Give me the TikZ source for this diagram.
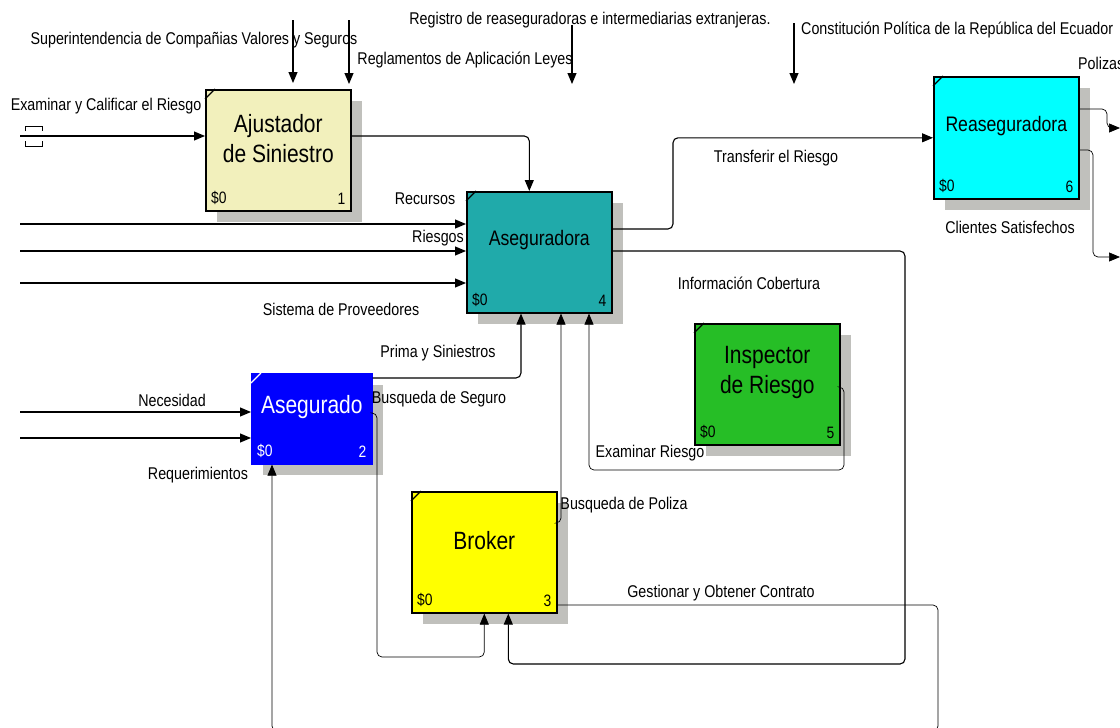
\documentclass[tikz,border=0pt]{standalone}
\usepackage{fontspec}
\setmainfont{Liberation Sans}[FakeStretch=0.84]
\usepackage{tikz}
\usetikzlibrary{positioning,arrows.meta,shadows}
\definecolor{ajusfill}{RGB}{242,240,188}
\definecolor{asgrafill}{RGB}{32,170,170}
\definecolor{reasfill}{RGB}{0,255,255}
\definecolor{inspfill}{RGB}{38,190,38}
\definecolor{brokfill}{RGB}{255,255,0}
\definecolor{asgdofill}{RGB}{0,0,255}
\definecolor{shadowgray}{RGB}{192,192,188}
\newcommand{\tagfont}{\fontsize{17}{19}\selectfont}
\newcommand{\titlefont}{\fontsize{25}{30}\selectfont}
\newcommand{\smalltitlefont}{\fontsize{21}{25}\selectfont}
\newcommand{\costfont}{\fontsize{16.5}{18}\selectfont}
\tikzset{
  activity/.style={draw=black,line width=1.6pt,anchor=north west,
    minimum width=145pt,minimum height=121pt,inner sep=0pt,
    drop shadow={shadow xshift=11pt,shadow yshift=-11pt,fill=shadowgray,opacity=1}},
  title/.style={font=\titlefont,align=center,yshift=12pt,inner sep=0pt},
  cost/.style={font=\costfont,anchor=south west,xshift=6pt,yshift=7pt,inner sep=0pt},
  boxno/.style={font=\costfont,anchor=south east,xshift=-6pt,yshift=7pt,inner sep=0pt},
  flow/.style={line width=1.1pt,rounded corners=5pt,-{Triangle[length=11pt,width=9pt]}},
  thinflow/.style={flow,line width=0.7pt},
  tag/.style={font=\tagfont,inner sep=0pt}
}

\begin{document}
\begin{tikzpicture}[x=1pt,y=-1pt]
  \useasboundingbox (0,0) rectangle (1120,728);
  % activities
  \node[activity,fill=ajusfill,label={[title]center:Ajustador\\de Siniestro},
    label={[cost]south west:\$0},label={[boxno]south east:1}] (ajus) at (205,89) {};
  \node[activity,fill=asgrafill,label={[title,font=\smalltitlefont]center:Aseguradora},
    label={[cost]south west:\$0},label={[boxno]south east:4}] (asgra) at (466,191) {};
  \node[activity,fill=reasfill,minimum height=122pt,label={[title,font=\smalltitlefont]center:Reaseguradora},
    label={[cost]south west:\$0},label={[boxno]south east:6}] (reas) at (933,76) {};
  \node[activity,fill=inspfill,label={[title]center:Inspector\\de Riesgo},
    label={[cost]south west:\$0},label={[boxno]south east:5}] (insp) at (694,323) {};
  \node[activity,fill=brokfill,label={[title]center:Broker},
    label={[cost]south west:\$0},label={[boxno]south east:3}] (brok) at (411,491) {};
  \node[activity,draw=asgdofill,fill=asgdofill,minimum width=120pt,minimum height=90pt,
    label={[title,text=white]center:Asegurado},
    label={[cost,text=white]south west:\$0},label={[boxno,text=white]south east:2}] (asgdo) at (251,373) {};
  \foreach \b in {ajus,asgra,reas,insp,brok}
    \draw[line width=1.2pt] ([yshift=-10pt]\b.north west) -- ([xshift=10pt]\b.north west);
  \draw[white,line width=1.2pt] ([yshift=-10pt]asgdo.north west) -- ([xshift=10pt]asgdo.north west);

  % controls
  \coordinate (c1) at (293,20);
  \coordinate (c2) at (349,20);
  \coordinate (c3) at (572,25);
  \coordinate (c3e) at (572,84);
  \coordinate (c4) at (794,23);
  \coordinate (c4e) at (794,84);
  \draw[flow,shorten >=6pt] (c1) -- (c1 |- ajus.north);
  \draw[flow,shorten >=5pt] (c2) -- (c2 |- ajus.north);
  \draw[flow] (c3) -- (c3e);
  \draw[flow] (c4) -- (c4e);

  % inputs
  \coordinate (exa) at (20,136);
  \coordinate (rec) at (20,224);
  \coordinate (rsg) at (20,251);
  \coordinate (prv) at (20,283);
  \coordinate (nec) at (20,412);
  \coordinate (req) at (20,438);
  \draw[flow] (exa) -- (exa -| ajus.west);
  \draw[line width=0.6pt] ([shift={(5,-5)}]exa) |- ([shift={(22,-10)}]exa) -- ([shift={(22,-5)}]exa);
  \draw[line width=0.6pt] ([shift={(5,5)}]exa) |- ([shift={(22,10)}]exa) -- ([shift={(22,5)}]exa);
  \draw[flow] (rec) -- (rec -| asgra.west);
  \draw[flow] (rsg) -- (rsg -| asgra.west);
  \draw[flow] (prv) -- (prv -| asgra.west);
  \draw[flow] (nec) -- (nec -| asgdo.west);
  \draw[flow] (req) -- (req -| asgdo.west);

  % flows between activities
  \draw[flow] (ajus.east |- exa) -| ([xshift=-10pt]asgra.north);
  \coordinate (trf) at (673,229);
  \draw[flow] (asgra.east |- trf) -- (trf) |- (reas.west);
  \coordinate (inf) at (905,251);
  \coordinate (infb) at (905,664);
  \draw[flow] (asgra.east |- inf) -- (inf) -- (infb) -| ([xshift=24pt]brok.south);
  \coordinate (pri) at (521,378);
  \draw[flow] (asgdo.east |- pri) -- (pri) -- (pri |- asgra.south);
  \coordinate (bsg) at (377,413);
  \coordinate (bsgb) at (377,657);
  \draw[thinflow] (asgdo.east |- bsg) -- (bsg) -- (bsgb) -| (brok.south);
  \coordinate (bpz) at (561,523);
  \draw[thinflow] (brok.east |- bpz) -- (bpz) -- (bpz |- asgra.south);
  \coordinate (exr) at (844,387);
  \coordinate (exrb) at (844,470);
  \coordinate (exrl) at (589,470);
  \draw[thinflow] (insp.east |- exr) -- (exr) -- (exrb) -- (exrl) -- (exrl |- asgra.south);
  \coordinate (ges) at (938,605);
  \coordinate (gesb) at (938,731);
  \coordinate (gesl) at (272,731);
  \draw[thinflow] (brok.east |- ges) -- (ges) -- (gesb) -- (gesl) -- (gesl |- asgdo.south);
  \coordinate (pol) at (1107,109);
  \coordinate (polend) at (1120,128);
  \draw[thinflow] (reas.east |- pol) -- (pol) |- (polend);
  \coordinate (cli) at (1093,150);
  \coordinate (cliend) at (1120,257);
  \draw[thinflow] (reas.east |- cli) -- (cli) |- (cliend);

  % texts
  \node[tag] (lsup) at (194,40) {Superintendencia de Compañias Valores y Seguros};
  \node[tag] (lreg) at (465,60) {Reglamentos de Aplicación Leyes};
  \node[tag] (lrgr) at (590,20) {Registro de reaseguradoras e intermediarias extranjeras.};
  \node[tag,anchor=west] (lcon) at (801,30) {Constitución Política de la República del Ecuador};
  \node[tag,anchor=west] (lpol) at (1078,63) {Polizas};
  \node[tag] (lexa) at (106,106) {Examinar y Calificar el Riesgo};
  \node[tag] (lrec) at (425,199) {Recursos};
  \node[tag] (lrsg) at (438,238) {Riesgos};
  \node[tag] (lprv) at (341,309) {Sistema de Proveedores};
  \node[tag] (ltrf) at (776,158) {Transferir el Riesgo};
  \node[tag] (lcli) at (1010,227) {Clientes Satisfechos};
  \node[tag] (linf) at (749,283) {Información Cobertura};
  \node[tag] (lpri) at (438,353) {Prima y Siniestros};
  \node[tag] (lnec) at (172,400) {Necesidad};
  \node[tag] (lbsg) at (439,399) {Busqueda de Seguro};
  \node[tag] (lreq) at (198,475) {Requerimientos};
  \node[tag] (lexr) at (650,453) {Examinar Riesgo};
  \node[tag] (lbpz) at (624,505) {Busqueda de Poliza};
  \node[tag] (lges) at (721,593) {Gestionar y Obtener Contrato};
\end{tikzpicture}
\end{document}
